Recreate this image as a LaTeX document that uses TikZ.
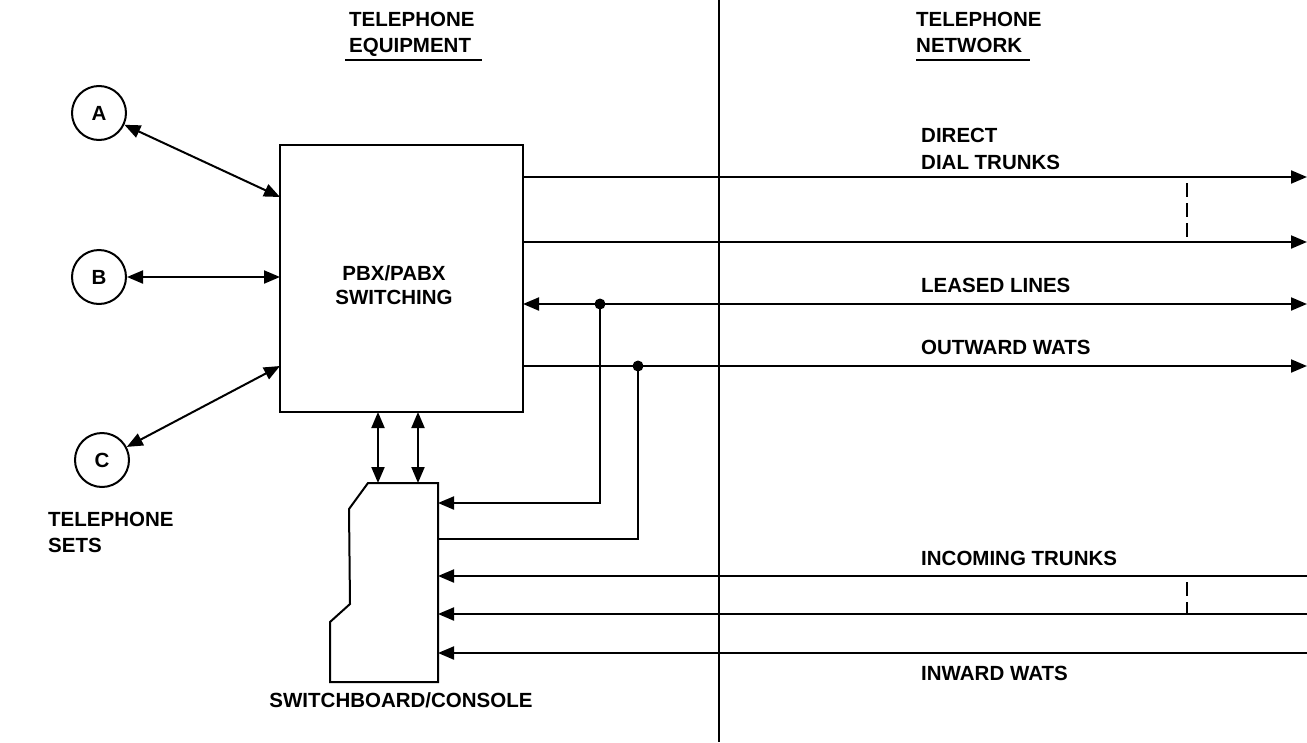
\documentclass[tikz,border=0pt]{standalone}
\usepackage{fontspec}
\setmainfont{Liberation Sans}
\usetikzlibrary{arrows.meta}
\begin{document}
\begin{tikzpicture}[x=1pt,y=-1pt,
  ln/.style={line width=2pt},
  ar/.style={ln,-{Triangle[length=16pt,width=13pt]}},
  ra/.style={ln,{Triangle[length=16pt,width=13pt]}-{Triangle[length=16pt,width=13pt]}},
  txt/.style={inner sep=0pt,font=\fontsize{20.5}{24}\selectfont\bfseries},
  setc/.style={circle,draw,ln,minimum size=54pt,inner sep=0pt,font=\fontsize{20.5}{24}\selectfont\bfseries},
  dsh/.style={line width=1.7pt,dash pattern=on 14pt off 6pt},
  jdot/.style={circle,fill,inner sep=0pt,minimum size=11pt}
]
\useasboundingbox (0,0) rectangle (1307,742);
% divider
\coordinate (dtop) at (719,0);
\coordinate (dbot) at (719,742);
\draw[line width=1.5pt] (dtop) -- (dbot);

% headers
\node[txt,anchor=base west] (h1) at (349,26) {TELEPHONE};
\node[txt,anchor=base west] (h2) at (349,52) {EQUIPMENT};
\coordinate (u1a) at (345,60);
\coordinate (u1b) at (482,60);
\draw[line width=1.5pt] (u1a) -- (u1b);
\node[txt,anchor=base west] (h3) at (916,26) {TELEPHONE};
\node[txt,anchor=base west] (h4) at (916,52) {NETWORK};
\coordinate (u2a) at (916,60);
\coordinate (u2b) at (1030,60);
\draw[line width=1.5pt] (u2a) -- (u2b);

% PBX box
\node[draw,ln,anchor=north west,minimum width=243pt,minimum height=267pt,inner sep=0pt,outer sep=0pt] (pbx) at (280,145) {};
\node[txt,align=center] (pbxt) at (394,285) {PBX/PABX\\SWITCHING};

% telephone sets
\node[setc] (A) at (99,113) {A};
\node[setc] (B) at (99,277) {B};
\node[setc] (C) at (102,460) {C};
\coordinate (pa) at (280,197);
\coordinate (pb) at (280,277);
\coordinate (pc) at (280,366);
\draw[ra] (A) -- (pa);
\draw[ra] (B) -- (pb);
\draw[ra] (C) -- (pc);
\node[txt,anchor=base west] (ts1) at (48,526) {TELEPHONE};
\node[txt,anchor=base west] (ts2) at (48,552) {SETS};

% switchboard
\draw[ln,line join=miter] (368,483) -- (438,483) -- (438,682) -- (330,682) -- (330,622) -- (350,604) -- (349,509) -- cycle;
\node[txt,anchor=base] (sbt) at (401,707) {SWITCHBOARD/CONSOLE};
\coordinate (s1) at (378,483);
\coordinate (s2) at (418,483);
\coordinate (p1) at (378,412);
\coordinate (p2) at (418,412);
\draw[ra] (p1) -- (s1);
\draw[ra] (p2) -- (s2);

% outgoing lines
\coordinate (e1) at (523,177); \coordinate (r1) at (1307,177);
\coordinate (e2) at (523,242); \coordinate (r2) at (1307,242);
\coordinate (e3) at (523,304); \coordinate (r3) at (1307,304);
\coordinate (e4) at (523,366); \coordinate (r4) at (1307,366);
\draw[ar] (e1) -- (r1);
\draw[ar] (e2) -- (r2);
\draw[ra] (e3) -- (r3);
\draw[ar] (e4) -- (r4);
\node[jdot] (j1) at (600,304) {};
\node[jdot] (j2) at (638,366) {};
\coordinate (w1) at (438,503);
\coordinate (w2) at (438,539);
\draw[ar] (j1.center) |- (w1);
\draw[ln] (j2.center) |- (w2);

% incoming lines
\coordinate (r5) at (1307,576); \coordinate (w5) at (438,576);
\coordinate (r6) at (1307,614); \coordinate (w6) at (438,614);
\coordinate (r7) at (1307,653); \coordinate (w7) at (438,653);
\draw[ar] (r5) -- (w5);
\draw[ar] (r6) -- (w6);
\draw[ar] (r7) -- (w7);

% dashed groupings
\coordinate (d1a) at (1187,183); \coordinate (d1b) at (1187,242);
\coordinate (d2a) at (1187,582); \coordinate (d2b) at (1187,614);
\draw[dsh] (d1a) -- (d1b);
\draw[dsh] (d2a) -- (d2b);

% labels
\node[txt,anchor=base west] (l1) at (921,142) {DIRECT};
\node[txt,anchor=base west] (l2) at (921,169) {DIAL TRUNKS};
\node[txt,anchor=base west] (l3) at (921,292) {LEASED LINES};
\node[txt,anchor=base west] (l4) at (921,354) {OUTWARD WATS};
\node[txt,anchor=base west] (l5) at (921,565) {INCOMING TRUNKS};
\node[txt,anchor=base west] (l6) at (921,680) {INWARD WATS};
\end{tikzpicture}
\end{document}
